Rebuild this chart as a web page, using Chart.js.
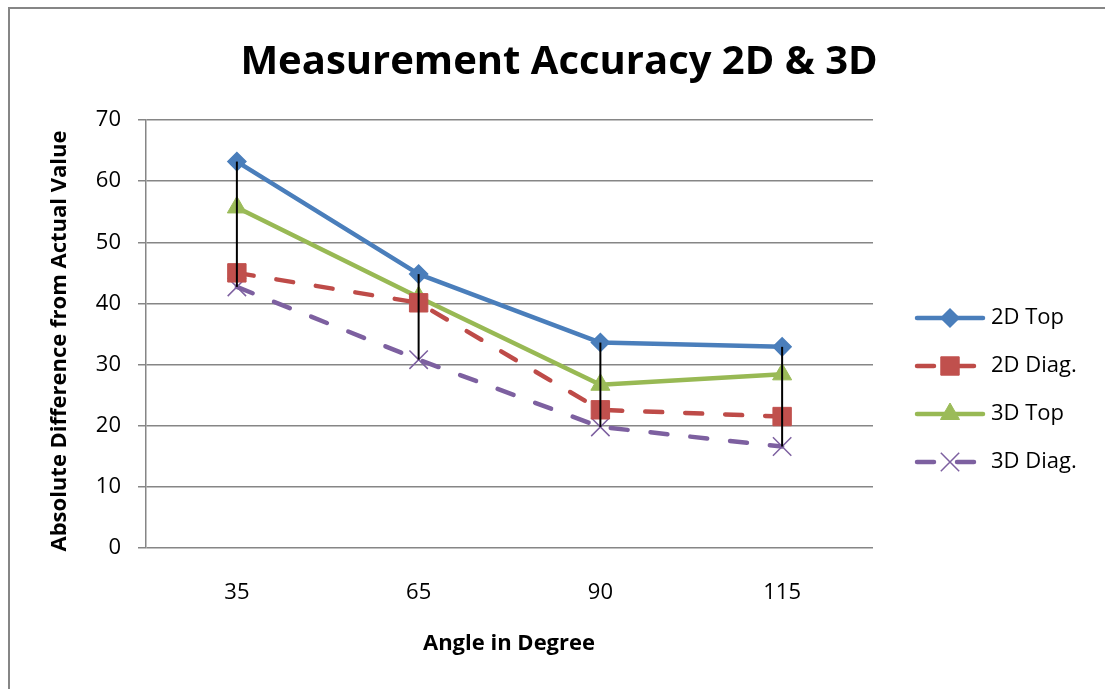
<!DOCTYPE html>
<html><head><meta charset="utf-8">
<script src="https://cdn.jsdelivr.net/npm/chart.js@4.4.0/dist/chart.umd.min.js"></script>
<style>html,body{margin:0;padding:0;background:#fff;} canvas{display:block;}</style>
</head><body>
<canvas id="c" width="1105" height="689"></canvas>
<script>
const categories = ['35', '65', '90', '115'];
const top2D = [63.2, 44.8, 33.6, 32.9];
const diag2D = [45.0, 40.1, 22.6, 21.5];
const top3D = [55.7, 41.0, 26.7, 28.4];
const diag3D = [42.7, 30.8, 19.8, 16.6];
const yTickValues = [0, 10, 20, 30, 40, 50, 60, 70];
const seriesNames = ['2D Top', '2D Diag.', '3D Top', '3D Diag.'];
const titleText = 'Measurement Accuracy 2D & 3D';
const xTitleText = 'Angle in Degree';
const yTitleText = 'Absolute Difference from Actual Value';

const FONT = '"Open Sans", "Liberation Sans", sans-serif';
const GRID = '#868686';

function legendMarker(ctx, ds, x, y) {
  ctx.save();
  ctx.fillStyle = ds.pointBackgroundColor;
  ctx.strokeStyle = ds.pointBorderColor;
  ctx.lineWidth = ds.pointBorderWidth;
  Chart.helpers.drawPoint(ctx, {pointStyle: ds.pointStyle, radius: ds.legendRadius, rotation: 0, borderWidth: ds.pointBorderWidth}, x, y);
  ctx.restore();
}

const legendPlugin = {
  id: 'legendCustom',
  afterDraw(chart) {
    const ctx = chart.ctx;
    chart.data.datasets.forEach((ds, i) => {
      const y = 318 + i * 48;
      ctx.save();
      ctx.strokeStyle = ds.borderColor;
      ctx.lineWidth = ds.borderWidth;
      ctx.lineCap = 'round';
      ctx.setLineDash(ds.borderDash || []);
      ctx.beginPath();
      ctx.moveTo(917, y);
      ctx.lineTo(983, y);
      ctx.stroke();
      ctx.restore();
      legendMarker(ctx, ds, 950, y);
      ctx.save();
      ctx.fillStyle = '#000';
      ctx.font = '22px ' + FONT;
      ctx.textAlign = 'left';
      ctx.textBaseline = 'middle';
      ctx.fillText(ds.label, 991, y);
      ctx.restore();
    });
  }
};

const hiLoPlugin = {
  id: 'hiLo',
  afterDatasetsDraw(chart) {
    const ctx = chart.ctx;
    const xs = chart.scales.x, ys = chart.scales.y;
    const sets = chart.data.datasets.map(d => d.data);
    ctx.save();
    ctx.strokeStyle = '#000';
    ctx.lineWidth = 2;
    categories.forEach((c, i) => {
      const vals = sets.map(s => s[i]);
      const x = xs.getPixelForValue(i);
      ctx.beginPath();
      ctx.moveTo(x, ys.getPixelForValue(Math.max(...vals)));
      ctx.lineTo(x, ys.getPixelForValue(Math.min(...vals)));
      ctx.stroke();
    });
    ctx.restore();
  }
};

const frameTitlePlugin = {
  id: 'frameTitle',
  afterDraw(chart) {
    const ctx = chart.ctx;
    ctx.save();
    ctx.strokeStyle = GRID;
    ctx.lineWidth = 2;
    ctx.strokeRect(9, 8, 1105, 700);
    ctx.fillStyle = '#000';
    ctx.font = 'bold 40px ' + FONT;
    ctx.textAlign = 'center';
    ctx.textBaseline = 'alphabetic';
    ctx.fillText(titleText, 559, 74);
    ctx.font = 'bold 22px ' + FONT;
    ctx.textBaseline = 'middle';
    ctx.fillText(xTitleText, 509, 644);
    ctx.translate(60, 341);
    ctx.rotate(-Math.PI / 2);
    ctx.fillText(yTitleText, 0, 0);
    ctx.restore();
  }
};

const mk = (label, data, line, fill, style, radius, dash, pbw) => ({
  label, data,
  borderColor: line,
  borderWidth: 4.5,
  borderDash: dash,
  borderCapStyle: 'round',
  borderJoinStyle: 'round',
  pointStyle: style,
  pointRadius: radius,
  pointHoverRadius: radius,
  legendRadius: radius,
  pointBackgroundColor: fill,
  pointBorderColor: style === 'crossRot' ? line : fill,
  pointBorderWidth: pbw,
  tension: 0,
  fill: false
});

const datasets = [
  mk(seriesNames[0], top2D, '#4A7EBB', '#4A7EBB', 'rectRot', 9, [], 1.5),
  mk(seriesNames[1], diag2D, '#BE4B48', '#C0504D', 'rect', 13, [17, 23], 1),
  mk(seriesNames[2], top3D, '#98B954', '#9BBB59', 'triangle', 11, [], 1),
  mk(seriesNames[3], diag3D, '#7D60A0', '#7D60A0', 'crossRot', 13, [17, 23], 1.5)
];

new Chart(document.getElementById('c'), {
  type: 'line',
  data: { labels: categories, datasets },
  options: {
    responsive: false,
    animation: false,
    events: [],
    layout: { padding: { top: 120, right: 232, bottom: 0, left: 0 } },
    plugins: { legend: { display: false }, title: { display: false }, tooltip: { enabled: false } },
    scales: {
      x: {
        offset: true,
        grid: { display: false, drawTicks: false },
        border: { display: false },
        ticks: { color: '#000', font: { family: FONT, size: 22 }, padding: 32, maxRotation: 0 },
        afterFit(s) { s.height = 141; }
      },
      y: {
        min: 0, max: 70,
        afterBuildTicks(s) { s.ticks = yTickValues.map(v => ({ value: v })); },
        grid: { color: GRID, lineWidth: 1.5, tickLength: 8 },
        border: { display: true, color: GRID, width: 1.5 },
        ticks: { color: '#000', font: { family: FONT, size: 22 }, padding: 17 },
        afterFit(s) { s.width = 146; }
      }
    }
  },
  plugins: [hiLoPlugin, frameTitlePlugin, legendPlugin]
});
</script>
</body></html>
